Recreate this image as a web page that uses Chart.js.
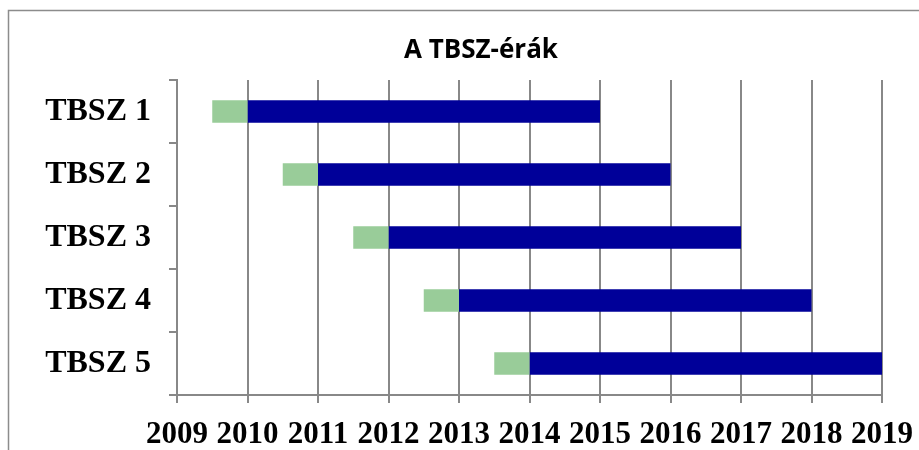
<!DOCTYPE html>
<html>
<head>
<meta charset="utf-8">
<script src="https://cdn.jsdelivr.net/npm/chart.js@4/dist/chart.umd.min.js"></script>
<style>
  html, body { margin: 0; padding: 0; background: #fff; overflow: hidden; }
  #wrap { position: absolute; left: 0; top: 0; width: 919px; height: 450px; }
</style>
</head>
<body>
<div id="wrap"><canvas id="c" width="919" height="450"></canvas></div>
<script>
const categories = ['TBSZ 1', 'TBSZ 2', 'TBSZ 3', 'TBSZ 4', 'TBSZ 5'];
const startYears = [2009.5, 2010.5, 2011.5, 2012.5, 2013.5];
const openYears = [2010, 2011, 2012, 2013, 2014];
const endYears = [2015, 2016, 2017, 2018, 2019];
const yearTicks = [2009, 2010, 2011, 2012, 2013, 2014, 2015, 2016, 2017, 2018, 2019];
const titleText = 'A TBSZ-érák';

const greenData = categories.map((c, i) => [startYears[i], openYears[i]]);
const navyData = categories.map((c, i) => [openYears[i], endYears[i]]);

// chart frame (extends beyond the visible picture on the right and bottom) and its centred title
const framePlugin = {
  id: 'frame',
  beforeDraw(chart) {
    const ctx = chart.ctx;
    ctx.save();
    ctx.strokeStyle = '#8c8c8c';
    ctx.lineWidth = 1.5;
    ctx.beginPath();
    ctx.moveTo(8.5, 460);
    ctx.lineTo(8.5, 10.5);
    ctx.lineTo(930, 10.5);
    ctx.stroke();
    ctx.restore();
  },
  afterDraw(chart) {
    const ctx = chart.ctx;
    ctx.save();
    ctx.fillStyle = '#000';
    ctx.font = 'bold 26px "Open Sans"';
    ctx.textAlign = 'center';
    ctx.textBaseline = 'middle';
    ctx.fillText(titleText, 481, 51);
    ctx.restore();
  }
};

new Chart(document.getElementById('c'), {
  type: 'bar',
  data: {
    labels: categories,
    datasets: [
      { label: 'start', data: greenData, backgroundColor: '#99cc99', borderWidth: 0 },
      { label: 'period', data: navyData, backgroundColor: '#000099', borderWidth: 0 }
    ]
  },
  options: {
    indexAxis: 'y',
    responsive: false,
    animation: false,
    datasets: { bar: { grouped: false, categoryPercentage: 1, barPercentage: 0.36 } },
    layout: { padding: { left: 0, right: 37, top: 80, bottom: 0 } },
    plugins: {
      legend: { display: false },
      tooltip: { enabled: false },
      title: { display: false }
    },
    scales: {
      x: {
        type: 'linear',
        min: yearTicks[0],
        max: yearTicks[yearTicks.length - 1],
        afterBuildTicks(scale) { scale.ticks = yearTicks.map(v => ({ value: v })); },
        afterFit(scale) { scale.height = 55; scale.paddingLeft = 0; scale.paddingRight = 0; },
        grid: { color: '#888', lineWidth: 2, tickLength: 8, drawTicks: true },
        border: { display: true, color: '#888', width: 2 },
        ticks: {
          autoSkip: false, maxRotation: 0, padding: 13, color: '#000',
          font: { family: 'Liberation Serif', size: 31, weight: 'bold' },
          callback: v => String(v)
        }
      },
      y: {
        type: 'category',
        offset: true,
        afterFit(scale) { scale.width = 177; },
        grid: { offset: true, drawOnChartArea: false, color: '#888', lineWidth: 2, tickLength: 8 },
        border: { display: true, color: '#888', width: 2 },
        ticks: {
          padding: 18, color: '#000',
          font: { family: 'Liberation Serif', size: 32, weight: 'bold' }
        }
      }
    }
  },
  plugins: [framePlugin]
});
</script>
</body>
</html>
